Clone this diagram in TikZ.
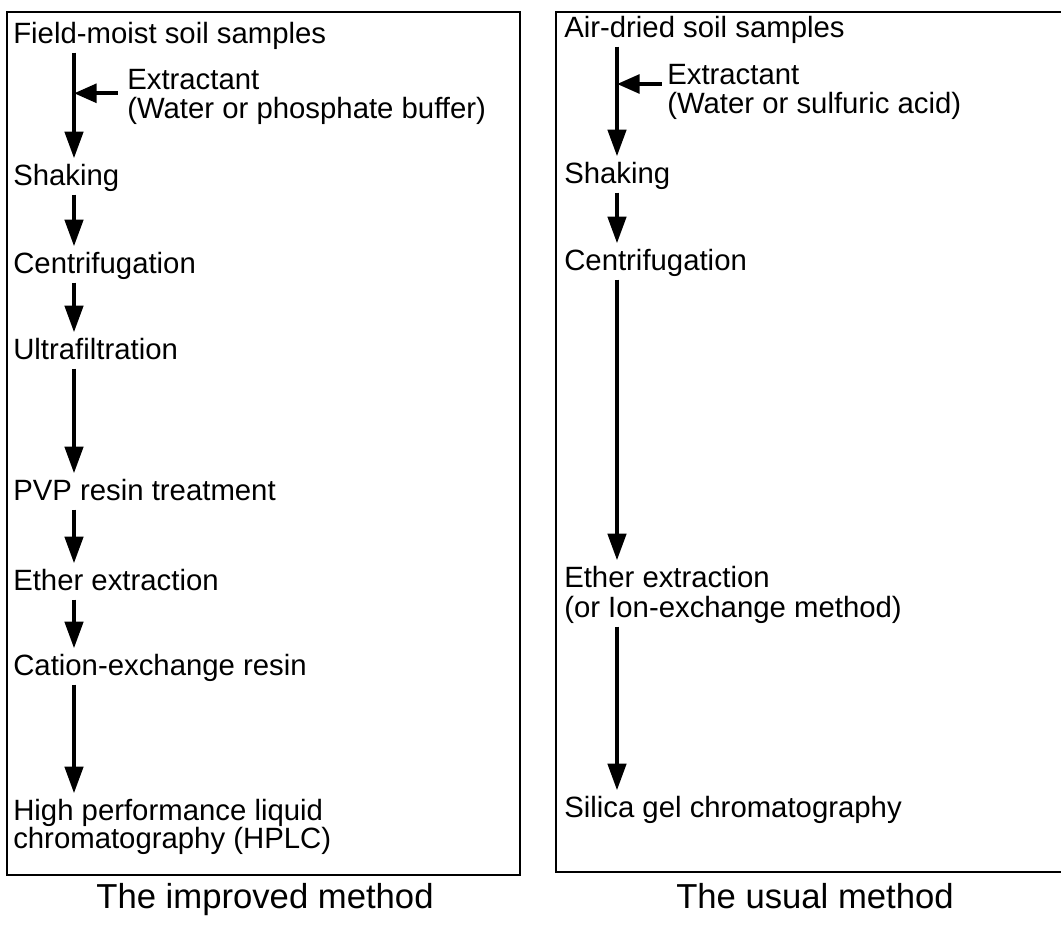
\documentclass[tikz,border=0pt]{standalone}
\usepackage{fontspec}
\setmainfont{Liberation Sans}
\usetikzlibrary{arrows.meta, positioning, calc}

\tikzset{
  stage/.style={anchor=base west, inner sep=0pt, font=\fontsize{22}{26}\selectfont,
    text height=15.75pt, text depth=3pt},
  flow/.style={-{Triangle[length=20pt, width=13.5pt]}, line width=3.2pt,
    shorten <=4pt, shorten >=4pt},
  inflow/.style={-{Triangle[length=17pt, width=14pt]}, line width=3pt},
  panel/.style={line width=2pt},
  caption/.style={anchor=base, inner sep=0pt, font=\fontsize{26}{30}\selectfont}
}

\begin{document}
\begin{tikzpicture}[x=0.75pt, y=-0.75pt]
  \useasboundingbox (0,0) rectangle (1061,947);

  % Panels
  \draw[panel] (7,12) rectangle (520,875);
  \draw[panel] (556,12) rectangle (1075,872);

  % The improved method
  \coordinate (lx) at (74,0);
  \node[stage] (fieldL) at (13,43) {Field-moist soil samples};
  \node[stage] (extrL) at (127,89) {Extractant};
  \node[stage] (bufL) at (127,118) {(Water or phosphate buffer)};
  \node[stage] (shakeL) at (13,185) {Shaking};
  \node[stage] (centrL) at (13,273) {Centrifugation};
  \node[stage] (ultraL) at (13,359) {Ultrafiltration};
  \node[stage] (pvpL) at (13,500) {PVP resin treatment};
  \node[stage] (etherL) at (13,590) {Ether extraction};
  \node[stage] (cationL) at (13,675) {Cation-exchange resin};
  \node[stage] (hplcL) at (13,820) {High performance liquid};
  \node[stage] (hplcL2) at (13,848) {chromatography (HPLC)};

  \draw[flow] (fieldL.south -| lx) -- (shakeL.north -| lx);
  \draw[inflow] ([xshift=-7pt]extrL.south west) -- (extrL.south west -| lx);
  \draw[flow] (shakeL.south -| lx) -- (centrL.north -| lx);
  \draw[flow] (centrL.south -| lx) -- (ultraL.north -| lx);
  \draw[flow] (ultraL.south -| lx) -- (pvpL.north -| lx);
  \draw[flow] (pvpL.south -| lx) -- (etherL.north -| lx);
  \draw[flow] (etherL.south -| lx) -- (cationL.north -| lx);
  \draw[flow] (cationL.south -| lx) -- (hplcL.north -| lx);

  % The usual method
  \coordinate (rx) at (617,0);
  \node[stage] (airR) at (564,37) {Air-dried soil samples};
  \node[stage] (extrR) at (667,84) {Extractant};
  \node[stage] (acidR) at (667,113) {(Water or sulfuric acid)};
  \node[stage] (shakeR) at (564,183) {Shaking};
  \node[stage] (centrR) at (564,270) {Centrifugation};
  \node[stage] (etherR) at (564,587) {Ether extraction};
  \node[stage] (ionR) at (564,617) {(or Ion-exchange method)};
  \node[stage] (silicaR) at (564,817) {Silica gel chromatography};

  \draw[flow] (airR.south -| rx) -- (shakeR.north -| rx);
  \draw[inflow] ([xshift=-4pt]extrR.base west) -- (extrR.base west -| rx);
  \draw[flow] (shakeR.south -| rx) -- (centrR.north -| rx);
  \draw[flow] (centrR.south -| rx) -- (etherR.north -| rx);
  \draw[flow] (ionR.south -| rx) -- (silicaR.north -| rx);

  % Captions
  \node[caption] (capL) at (265,908) {The improved method};
  \node[caption] (capR) at (815,908) {The usual method};
\end{tikzpicture}
\end{document}
